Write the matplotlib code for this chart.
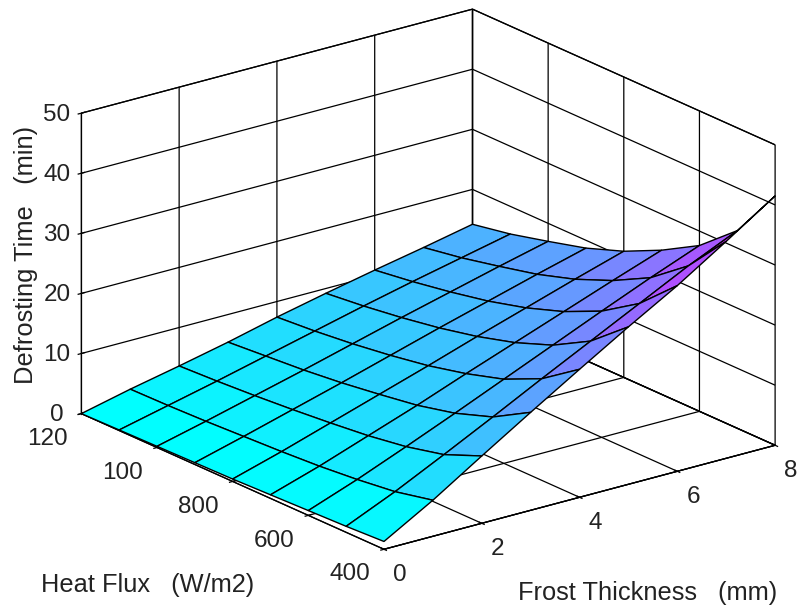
import numpy as np
import matplotlib
matplotlib.use("Agg")
import matplotlib.pyplot as plt

plt.rcParams['font.family'] = ['Liberation Sans', 'DejaVu Sans']

thickness = [0, 1, 2, 3, 4, 5, 6, 7, 8]
heat_flux = [400, 500, 600, 700, 800, 900, 1000, 1100, 1200]

# defrost time, one row per heat flux
t_400 = [1.3, 6.0, 11.2, 16.3, 21.3, 26.2, 30.9, 36.1, 41.5]
t_500 = [1.0, 4.6, 8.6, 12.7, 16.9, 21.0, 25.1, 29.2, 32.9]
t_600 = [0.8, 3.8, 7.1, 10.5, 14.0, 17.5, 21.0, 24.4, 27.6]
t_700 = [0.6, 3.2, 6.1, 9.0, 12.1, 15.1, 18.1, 21.1, 24.0]
t_800 = [0.4, 2.8, 5.4, 8.0, 10.6, 13.3, 15.9, 18.5, 21.0]
t_900 = [0.3, 2.5, 4.8, 7.1, 9.5, 11.9, 14.2, 16.5, 18.7]
t_1000 = [0.2, 2.2, 4.3, 6.4, 8.6, 10.8, 12.9, 15.0, 17.0]
t_1100 = [0.1, 2.0, 3.9, 5.9, 7.9, 9.9, 11.8, 13.6, 15.4]
t_1200 = [0.0, 1.9, 3.6, 5.4, 7.4, 9.2, 10.9, 12.5, 14.2]

x_ticks = [0, 2, 4, 6, 8]
y_ticks = [400, 600, 800, 1000, 1200]
y_labels = ['400', '600', '800', '100', '120']
z_ticks = [0, 10, 20, 30, 40, 50]

X, Y = np.meshgrid(thickness, heat_flux)
Z = np.array([t_400, t_500, t_600, t_700, t_800, t_900, t_1000, t_1100, t_1200])

fig = plt.figure(figsize=(8, 6.09), dpi=100)
ax = fig.add_axes([0.025, 0.028, 1, 1], projection='3d')
ax.set_proj_type('ortho')
ax.view_init(elev=20.2, azim=-127.6)
ax.set_box_aspect((494.7, 497, 320.8), zoom=1.2267)

# each cell takes the colour of its first corner, like a flat shaded surf
norm = plt.Normalize(0, 45)
surf = ax.plot_surface(X, Y, Z, facecolors=plt.cm.cool(norm(Z)), shade=False,
                       edgecolor='black', linewidth=1.0, rstride=1, cstride=1)
surf.set_clip_on(False)

ax.set_xlim(0, 8)
ax.set_ylim(400, 1200)
ax.set_zlim(0, 50)
ax.set_xticks(x_ticks)
ax.set_yticks(y_ticks)
ax.set_yticklabels(y_labels)
ax.set_zticks(z_ticks)
ax.tick_params(labelsize=17.5, labelcolor='#222222')
ax.tick_params(axis='x', pad=4)
ax.tick_params(axis='y', pad=0)
ax.tick_params(axis='z', pad=0)
for lab in ax.get_xticklabels():
    lab.set_va('center_baseline')
for lab in ax.get_yticklabels():
    lab.set_ha('right')
for lab in ax.get_zticklabels():
    lab.set_va('center_baseline')

for axis in [ax.xaxis, ax.yaxis, ax.zaxis]:
    axis.set_pane_color((1, 1, 1, 1))
    axis.pane.set_edgecolor('black')
    axis.pane.set_linewidth(0.9)
    axis.line.set_linewidth(0.9)
    axis._axinfo['grid']['color'] = 'black'
    axis._axinfo['grid']['linewidth'] = 0.9
    axis._axinfo['tick']['outward_factor'] = 0.1
    axis._axinfo['tick']['inward_factor'] = 0.1
    axis._axinfo['tick']['linewidth'] = {True: 0.9, False: 0.9}

fig.text(0.032, 0.581, 'Defrosting Time   (min)', rotation=90, fontsize=18.4,
         color='#222222', ha='center', va='center')
fig.text(0.185, 0.04, 'Heat Flux   (W/m2)', fontsize=18.3, color='#222222',
         ha='center', va='center')
fig.text(0.81, 0.026, 'Frost Thickness   (mm)', fontsize=18.3, color='#222222',
         ha='center', va='center')

fig.savefig('out.png', dpi=100)
